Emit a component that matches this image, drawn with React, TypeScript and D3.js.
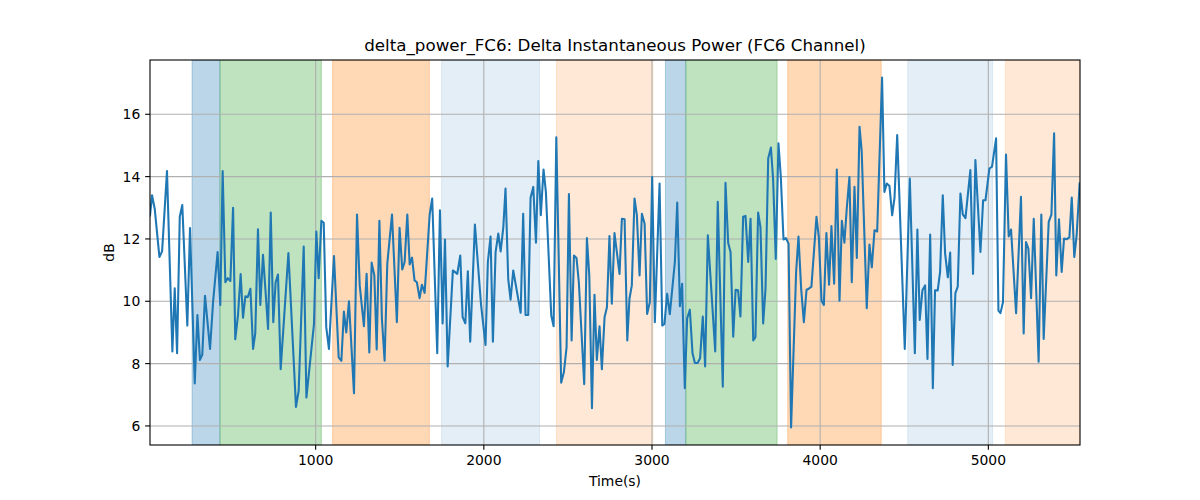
import React from "react";
import * as d3 from "d3";

const times: number[] = [
  15, 27, 43, 71, 87, 116, 148, 162, 176, 192, 207, 237, 253, 281, 297, 312, 326, 342, 372, 390,
  417, 433, 447, 463, 477, 493, 509, 522, 538, 554, 568, 582, 596, 612, 628, 641, 657, 671, 687, 701,
  717, 733, 748, 762, 776, 792, 838, 883, 899, 929, 945, 990, 1004, 1018, 1034, 1048, 1063, 1079, 1109, 1137,
  1153, 1168, 1182, 1198, 1228, 1246, 1262, 1287, 1303, 1319, 1333, 1349, 1363, 1379, 1394, 1410, 1426, 1454, 1483, 1499,
  1515, 1529, 1545, 1559, 1573, 1588, 1602, 1618, 1632, 1648, 1678, 1693, 1723, 1739, 1755, 1769, 1785, 1816, 1842, 1860,
  1874, 1890, 1905, 1919, 1947, 1983, 2010, 2024, 2040, 2054, 2070, 2086, 2100, 2116, 2129, 2145, 2159, 2175, 2219, 2234,
  2248, 2264, 2278, 2294, 2310, 2324, 2339, 2355, 2369, 2401, 2415, 2431, 2460, 2476, 2492, 2506, 2522, 2536, 2551, 2565,
  2597, 2613, 2627, 2643, 2658, 2672, 2688, 2702, 2718, 2732, 2747, 2761, 2777, 2791, 2807, 2821, 2837, 2853, 2866, 2880,
  2896, 2910, 2926, 2940, 2956, 2971, 2987, 3001, 3017, 3045, 3061, 3074, 3090, 3106, 3136, 3150, 3166, 3179, 3195, 3209,
  3225, 3241, 3255, 3271, 3286, 3302, 3316, 3332, 3376, 3391, 3421, 3437, 3453, 3467, 3483, 3497, 3512, 3526, 3542, 3556,
  3572, 3586, 3602, 3615, 3631, 3645, 3661, 3675, 3691, 3707, 3720, 3736, 3752, 3766, 3782, 3796, 3812, 3827, 3857, 3871,
  3887, 3903, 3919, 3932, 3948, 3978, 3992, 4008, 4022, 4037, 4053, 4067, 4083, 4099, 4115, 4129, 4144, 4158, 4174, 4188,
  4204, 4218, 4234, 4247, 4277, 4293, 4307, 4323, 4339, 4368, 4382, 4396, 4412, 4428, 4442, 4458, 4503, 4533, 4563, 4578,
  4592, 4608, 4624, 4638, 4654, 4670, 4683, 4699, 4713, 4729, 4743, 4759, 4773, 4788, 4804, 4818, 4834, 4848, 4864, 4893,
  4909, 4923, 4953, 4969, 4983, 5006, 5022, 5046, 5060, 5072, 5087, 5105, 5121, 5135, 5165, 5194, 5210, 5224, 5238, 5254,
  5270, 5299, 5315, 5329, 5359, 5375, 5391, 5404, 5420, 5436, 5450, 5466, 5482, 5496, 5511, 5525, 5543,
];

const values: number[] = [
  12.75, 13.4, 12.97, 11.42, 11.6, 14.18, 8.39, 10.42, 8.33, 12.71, 13.09, 9.22, 12.35, 7.36, 9.56, 8.12, 8.29, 10.18, 8.47, 9.97,
  11.58, 9.88, 14.18, 10.61, 10.74, 10.65, 13.0, 8.78, 9.54, 10.87, 9.47, 10.16, 10.13, 10.4, 8.47, 8.98, 12.31, 9.88, 11.49, 10.4,
  9.11, 12.85, 9.33, 10.61, 10.86, 7.82, 11.55, 6.61, 7.13, 11.76, 6.91, 9.27, 12.24, 10.74, 12.58, 12.52, 9.17, 8.47, 11.45, 8.2,
  8.09, 9.67, 9.0, 10.0, 7.05, 12.78, 10.51, 9.2, 10.88, 8.36, 11.24, 10.83, 8.45, 12.58, 9.43, 8.09, 11.21, 12.78, 9.33, 12.36,
  11.02, 11.26, 12.78, 11.18, 11.4, 10.67, 10.61, 10.1, 10.53, 10.27, 12.78, 13.3, 8.33, 12.92, 9.29, 11.98, 7.91, 10.99, 10.88, 11.47,
  9.49, 9.29, 10.96, 8.7, 12.46, 9.92, 8.6, 11.26, 12.08, 8.7, 11.58, 12.17, 11.6, 12.38, 13.62, 10.72, 10.05, 10.99, 9.63, 12.81,
  9.56, 9.56, 13.32, 13.67, 11.88, 14.5, 12.76, 14.23, 13.51, 9.54, 9.2, 15.26, 7.39, 7.72, 8.52, 13.44, 8.74, 11.47, 11.39, 10.61,
  7.34, 12.03, 10.83, 6.57, 10.21, 8.12, 9.2, 7.82, 9.49, 9.81, 12.09, 9.92, 12.19, 11.58, 10.88, 12.65, 12.63, 8.74, 10.08, 10.51,
  13.3, 12.76, 10.83, 12.81, 12.49, 9.59, 9.97, 13.99, 9.33, 13.78, 9.22, 9.27, 10.24, 9.59, 11.26, 13.17, 9.84, 10.56, 7.21, 9.45,
  9.73, 8.33, 8.02, 8.02, 8.17, 9.51, 7.91, 12.12, 8.39, 13.19, 7.26, 13.8, 11.87, 11.58, 8.86, 10.37, 10.35, 9.51, 12.71, 12.74,
  11.26, 12.65, 8.74, 8.85, 12.85, 12.38, 9.29, 10.4, 14.58, 14.93, 13.94, 11.36, 15.07, 13.99, 11.98, 12.03, 11.85, 5.95, 10.94, 12.08,
  10.4, 9.33, 10.37, 10.4, 10.47, 12.71, 12.06, 10.02, 9.88, 12.19, 10.53, 12.41, 10.56, 14.23, 10.02, 12.58, 11.88, 12.97, 13.99, 10.61,
  13.67, 11.39, 15.6, 14.8, 9.78, 11.82, 11.09, 12.28, 12.24, 17.18, 13.51, 13.78, 13.7, 12.76, 13.32, 15.33, 8.47, 13.94, 8.33, 12.3,
  9.4, 10.35, 10.51, 8.15, 12.14, 7.21, 10.35, 10.35, 10.94, 13.4, 11.53, 10.77, 11.56, 7.96, 10.26, 10.47, 13.46, 12.79, 12.67, 14.21,
  10.88, 14.53, 11.58, 13.24, 13.24, 14.26, 14.32, 15.23, 9.7, 9.62, 9.97, 14.71, 12.08, 12.3, 9.62, 13.35, 8.97, 11.9, 11.69, 10.1,
  12.65, 8.06, 12.78, 8.79, 12.55, 12.78, 15.39, 10.83, 12.63, 10.94, 12.01, 11.99, 12.06, 13.33, 11.42, 12.12, 13.78,
];

const spanStarts: number[] = [265, 431, 1101, 1749, 2432, 3080, 3201, 3807, 4521, 5101];
const spanEnds: number[] = [431, 1034, 1676, 2331, 3005, 3201, 3744, 4363, 5025, 5545];
const spanKinds: string[] = ["blue", "green", "orange", "lightblue", "lightorange", "blue", "green", "orange", "lightblue", "lightorange"];

const xTicks: number[] = [1000, 2000, 3000, 4000, 5000];
const yTicks: number[] = [6, 8, 10, 12, 14, 16];

const title = "delta_power_FC6: Delta Instantaneous Power (FC6 Channel)";
const xLabel = "Time(s)";
const yLabel = "dB";

const spanFill: Record<string, string> = {
  blue: "rgba(31,119,180,0.3)",
  green: "rgba(44,160,44,0.3)",
  orange: "rgba(255,127,14,0.3)",
  lightblue: "rgba(31,119,180,0.12)",
  lightorange: "rgba(255,127,14,0.17)",
};

export default function App() {
  const W = 1200, H = 500;
  const L = 150, R = 1080, T = 60, B = 445;
  const font = "'DejaVu Sans', sans-serif";

  const x = d3.scaleLinear().domain([15, 5545]).range([L, R]);
  const [vmin, vmax] = d3.extent(values) as [number, number];
  const pad = (vmax - vmin) * 0.05;
  const y = d3.scaleLinear().domain([vmin - pad, vmax + pad]).range([B, T]);

  const pts: [number, number][] = times.map((t, i) => [t, values[i]]);
  const line = d3.line<[number, number]>().x((d) => x(d[0])).y((d) => y(d[1]));

  return (
    <svg width={W} height={H} style={{ position: "absolute", left: 0, top: 0, display: "block" }} fontFamily={font}>
      <rect x={0} y={0} width={W} height={H} fill="#fff" />
      <defs>
        <clipPath id="plotclip">
          <rect x={L} y={T} width={R - L} height={B - T} />
        </clipPath>
      </defs>
      <g clipPath="url(#plotclip)">
        {spanStarts.map((s, i) => (
          <rect key={i} x={x(s)} y={T} width={x(spanEnds[i]) - x(s)} height={B - T}
            fill={spanFill[spanKinds[i]]} stroke={spanFill[spanKinds[i]]} strokeWidth={1} />
        ))}
        {xTicks.map((t) => (
          <line key={"gx" + t} x1={x(t)} x2={x(t)} y1={T} y2={B} stroke="#b0b0b0" strokeWidth={1.1} />
        ))}
        {yTicks.map((t) => (
          <line key={"gy" + t} x1={L} x2={R} y1={y(t)} y2={y(t)} stroke="#b0b0b0" strokeWidth={1.1} />
        ))}
        <path d={line(pts) || ""} fill="none" stroke="#1f77b4" strokeWidth={2.08} strokeLinejoin="round" strokeLinecap="square" />
      </g>
      <rect x={L} y={T} width={R - L} height={B - T} fill="none" stroke="#000" strokeWidth={1.1} />
      {xTicks.map((t) => (
        <g key={"tx" + t}>
          <line x1={x(t)} x2={x(t)} y1={B} y2={B + 4.86} stroke="#000" strokeWidth={1.1} />
          <text x={x(t)} y={B + 20} textAnchor="middle" fontSize={13.9} fill="#000">{t}</text>
        </g>
      ))}
      {yTicks.map((t) => (
        <g key={"ty" + t}>
          <line x1={L - 4.86} x2={L} y1={y(t)} y2={y(t)} stroke="#000" strokeWidth={1.1} />
          <text x={L - 9.7} y={y(t)} textAnchor="end" dominantBaseline="central" fontSize={13.9} fill="#000">{t}</text>
        </g>
      ))}
      <text x={(L + R) / 2} y={51} textAnchor="middle" fontSize={16.7} fill="#000">{title}</text>
      <text x={(L + R) / 2} y={486} textAnchor="middle" fontSize={13.9} fill="#000">{xLabel}</text>
      <text transform={`translate(114,${(T + B) / 2}) rotate(-90)`} textAnchor="middle" fontSize={13.9} fill="#000">{yLabel}</text>
    </svg>
  );
}
